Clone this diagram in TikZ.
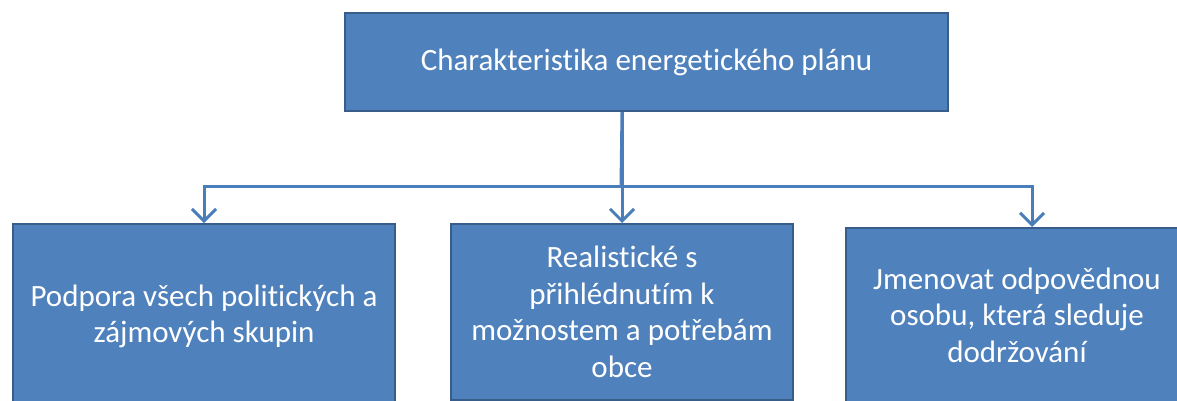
\documentclass[tikz,border=0pt]{standalone}
\usepackage{fontspec}
\setmainfont{Carlito}[Ligatures={NoCommon}]
\usetikzlibrary{arrows.meta}
\definecolor{boxfill}{HTML}{4F81BD}
\definecolor{boxline}{HTML}{385D8A}
\definecolor{connline}{HTML}{4A7EBB}
\tikzset{
  box/.style={draw=boxline, line width=2pt, fill=boxfill, text=white, align=center,
    font=\fontsize{31pt}{36.5pt}\selectfont, inner sep=0pt, anchor=north west},
  conn/.style={draw=connline, line width=3pt},
  tip/.style={-{Straight Barb[length=12pt,width=24pt,line width=3pt]}}
}
\begin{document}
\begin{tikzpicture}[x=1pt,y=-1pt]
\useasboundingbox (0,0) rectangle (1177,400);
\clip (0,0) rectangle (1177,400);
\node[box, minimum width=603pt, minimum height=98pt] (top) at (344,12) {Charakteristika energetického plánu};
\node[box, minimum width=382pt, minimum height=185pt] (left) at (12,223) {Podpora všech politických a\\zájmových skupin};
\node[box, minimum width=342pt, minimum height=176pt] (mid) at (450,223) {Realistické s\\přihlédnutím k\\možnostem a potřebám\\obce};
\node[box, minimum width=342pt, minimum height=174pt] (right) at (845,227) {Jmenovat odpovědnou\\osobu, která sleduje\\dodržování};
\coordinate (bus) at (621,186);
\coordinate (rin) at (1032,227);
\draw[conn] (top.south -| mid.north) -- (bus);
\draw[conn, tip] (top.south -| mid.north) -- (mid.north);
\draw[conn, tip] (bus) -| (left.north);
\draw[conn, tip] (bus) -| (rin);
\end{tikzpicture}
\end{document}
